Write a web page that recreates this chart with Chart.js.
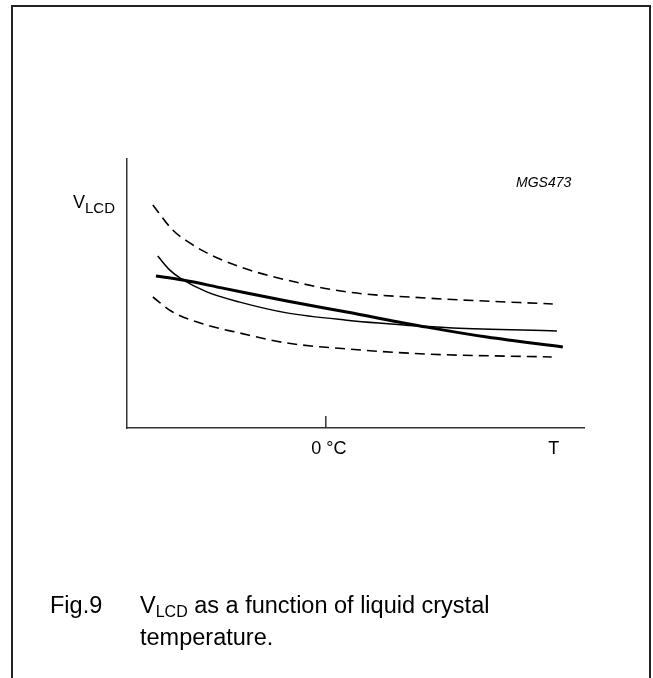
<!DOCTYPE html>
<html lang="en">
<head>
    <meta charset="UTF-8">
    <title>Fig.9 VLCD vs liquid crystal temperature</title>
    <script src="https://cdn.jsdelivr.net/npm/chart.js@4.4.0/dist/chart.umd.min.js"></script>
    <style>
        body {
            margin: 0;
            background: #ffffff;
            font-family: 'Liberation Sans', Arial, sans-serif;
        }
        #wrap {
            position: relative;
            width: 653px;
            height: 678px;
            overflow: hidden;
        }
        #frame {
            position: absolute;
            left: 11px;
            top: 5px;
            width: 640px;
            height: 700px;
            box-sizing: border-box;
            border: 2px solid #222;
            border-bottom: none;
        }
        canvas { position: absolute; left: 0; top: 0; }
        .caption {
            position: absolute;
            top: 589px;
            font-size: 23.5px;
            line-height: 32px;
            color: #000;
        }
        .caption sub {
            font-size: 16px;
            line-height: 0;
            vertical-align: -4px;
        }
    </style>
</head>
<body>
<div id="wrap">
    <div id="frame"></div>
    <canvas id="vlcdChart" width="653" height="678"></canvas>
    <div class="caption" style="left:50px;">Fig.9</div>
    <div class="caption" style="left:140px;">V<sub>LCD</sub> as a function of liquid crystal<br>temperature.</div>
</div>

<script>
    // curve samples (x: temperature, y: VLCD, arbitrary units)
    const upperX = [-67, -59.3, -52.7, -46.1, -33.3, -15.1, 8.1, 39.1, 87.9];
    const upperY = [82.9, 73.6, 68.8, 65.1, 59.9, 55.0, 50.6, 48.3, 46.1];

    const typX = [-65.1, -60.4, -56.5, -46.1, -33.3, -15.1, 8.1, 36.4, 49.2, 89.5];
    const typY = [63.9, 58.7, 55.8, 50.6, 46.8, 42.8, 40.1, 37.9, 37.2, 36.1];

    const linX = [-65.8, -55.4, -39.9, -15.1, 8.1, 39.1, 62.4, 91.8];
    const linY = [56.5, 55.0, 52.0, 47.2, 43.1, 37.5, 33.8, 30.1];

    const lowerX = [-67, -59.3, -46.1, -33.3, -15.1, 8.1, 39.1, 87.5];
    const lowerY = [48.7, 43.1, 38.3, 35.3, 31.6, 29.4, 27.5, 26.4];

    // x axis labels
    const tickValues = [0, 87.1];
    const tickLabels = ['0 \u00B0C', 'T'];
    const tickMarks = [true, false];

    const toPoints = (xs, ys) => xs.map((x, i) => ({ x: x, y: ys[i] }));

    const FONT = "'Liberation Sans', Arial, sans-serif";

    // axis labels, tick mark, figure code
    const labelsPlugin = {
        id: 'labels',
        afterDraw(chart) {
            const ctx = chart.ctx;
            const xs = chart.scales.x;
            const area = chart.chartArea;
            ctx.save();
            ctx.fillStyle = '#000';
            ctx.strokeStyle = '#333';
            ctx.lineWidth = 1.5;
            ctx.textBaseline = 'alphabetic';
            ctx.font = '18px ' + FONT;
            ctx.textAlign = 'center';
            tickValues.forEach((v, i) => {
                const px = xs.getPixelForValue(v);
                if (tickMarks[i]) {
                    ctx.beginPath();
                    ctx.moveTo(px, area.bottom);
                    ctx.lineTo(px, area.bottom - 12);
                    ctx.stroke();
                }
                ctx.fillText(tickLabels[i], px + 3, area.bottom + 26);
            });

            // y axis title V_LCD
            ctx.textAlign = 'left';
            ctx.font = '18px ' + FONT;
            const vx = area.left - 54;
            ctx.fillText('V', vx, area.top + 49);
            const vw = ctx.measureText('V').width;
            ctx.font = '15px ' + FONT;
            ctx.fillText('LCD', vx + vw, area.top + 54);

            ctx.font = 'italic 14px ' + FONT;
            ctx.fillText('MGS473', 516, area.top + 28);
            ctx.restore();
        }
    };

    const dashed = [10, 6];

    new Chart(document.getElementById('vlcdChart'), {
        type: 'scatter',
        data: {
            datasets: [
                { data: toPoints(upperX, upperY), borderWidth: 1.6, borderDash: dashed },
                { data: toPoints(typX, typY), borderWidth: 1.5 },
                { data: toPoints(linX, linY), borderWidth: 3 },
                { data: toPoints(lowerX, lowerY), borderWidth: 1.6, borderDash: dashed }
            ].map(ds => Object.assign({
                showLine: true,
                borderColor: '#000',
                backgroundColor: '#000',
                pointRadius: 0,
                cubicInterpolationMode: 'monotone',
                fill: false
            }, ds))
        },
        options: {
            responsive: false,
            animation: false,
            events: [],
            layout: { padding: { left: 127, top: 159, right: 69, bottom: 250 } },
            plugins: {
                legend: { display: false },
                tooltip: { enabled: false }
            },
            scales: {
                x: {
                    type: 'linear',
                    min: -77,
                    max: 100,
                    grid: { display: true, drawOnChartArea: false, drawTicks: false, color: 'rgba(0,0,0,0)' },
                    border: { display: true, color: '#333', width: 1.5 },
                    ticks: { display: false }
                },
                y: {
                    type: 'linear',
                    min: 0,
                    max: 100,
                    grid: { display: true, drawOnChartArea: false, drawTicks: false, color: 'rgba(0,0,0,0)' },
                    border: { display: true, color: '#333', width: 1.5 },
                    ticks: { display: false }
                }
            }
        },
        plugins: [labelsPlugin]
    });
</script>
</body>
</html>
